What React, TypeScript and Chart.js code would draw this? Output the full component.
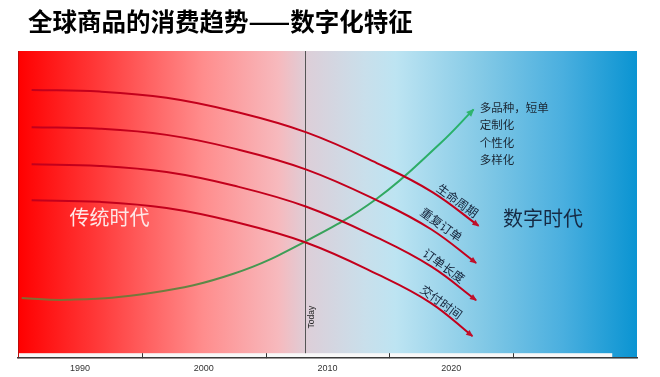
import React, { useEffect, useRef } from "react";
import { Chart, registerables } from "chart.js";

Chart.register(...registerables);

const TITLE = "全球商品的消费趋势——数字化特征";
const tickYears = [1990, 2000, 2010, 2020];
const tickMarkYears = [1995, 2005, 2015, 2025];
const todayYear = 2008.2;
const stripEndYear = 2033;

const seriesNames = ["生命周期", "重复订单", "订单长度", "交付时间"];

const years1 = [1986.1, 1991.6, 1997.0, 2002.4, 2008.3, 2014.2, 2018.5, 2022.2];
const lifeCycle = [87.3, 86.8, 84.8, 80.4, 73.5, 63.1, 54.0, 43.1];
const years2 = [1986.1, 1991.6, 1997.0, 2002.4, 2008.3, 2014.2, 2018.4, 2022.0];
const repeatOrder = [75.2, 74.7, 72.7, 68.3, 61.4, 51.0, 41.9, 31.0];
const years3 = [1986.1, 1991.6, 1997.0, 2002.4, 2008.3, 2014.2, 2018.4, 2022.0];
const orderLength = [63.1, 62.6, 60.6, 56.2, 49.3, 38.9, 29.8, 18.9];
const years4 = [1986.1, 1991.6, 1997.0, 2002.4, 2008.3, 2014.1, 2018.3, 2021.7];
const deliveryTime = [51.4, 50.9, 48.9, 44.5, 37.6, 27.2, 18.1, 7.2];

const greenYears = [1985.3, 1989.0, 1995.7, 2002.4, 2008.3, 2014.0, 2019.1, 2021.8];
const variety = [19.6, 19.0, 21.2, 27.5, 38.2, 52.0, 69.9, 81.0];

// label positions (data units) for annotations
const curveLabelYears = [2020.5, 2019.2, 2019.4, 2019.2];
const curveLabelValues = [51.3, 43.5, 30.1, 18.3];
const noteLines = ["多品种，短单", "定制化", "个性化", "多样化"];
const noteYear = 2022.3;
const noteValue = 81.7;

const CJK = '"Noto Sans CJK SC", "Noto Sans", sans-serif';

function toPoints(xs: number[], ys: number[]) {
  return xs.map((x, i) => ({ x, y: ys[i] }));
}

function drawArrow(ctx: CanvasRenderingContext2D, el: any, prev: any, color: string, len: number, half: number) {
  const useCp = el.cp1x !== undefined && Math.abs(el.cp1x - el.x) + Math.abs(el.cp1y - el.y) > 0.5;
  const fx = useCp ? el.cp1x : prev.x;
  const fy = useCp ? el.cp1y : prev.y;
  const a = Math.atan2(el.y - fy, el.x - fx);
  ctx.save();
  ctx.translate(el.x, el.y);
  ctx.rotate(a);
  ctx.fillStyle = color;
  ctx.beginPath();
  ctx.moveTo(1, 0);
  ctx.lineTo(-len, -half);
  ctx.lineTo(-len, half);
  ctx.closePath();
  ctx.fill();
  ctx.restore();
}

const decorPlugin = {
  id: "decor",
  beforeDraw(chart: any) {
    const { ctx, chartArea: a, scales } = chart;
    const x = scales.x;
    ctx.save();
    ctx.fillStyle = "#ffffff";
    ctx.fillRect(0, 0, chart.width, chart.height);
    const g = ctx.createLinearGradient(a.left, 0, a.right, 0);
    g.addColorStop(0, "#ff0000");
    g.addColorStop(0.13, "#ff3a3a");
    g.addColorStop(0.3, "#ff8d8d");
    g.addColorStop(0.42, "#f7b9bd");
    g.addColorStop(0.47, "#dccfd9");
    g.addColorStop(0.56, "#c9dfeb");
    g.addColorStop(0.61, "#bde4f2");
    g.addColorStop(0.75, "#83c9e6");
    g.addColorStop(0.88, "#4aafdf");
    g.addColorStop(1, "#0a94d2");
    ctx.fillStyle = g;
    ctx.fillRect(a.left, a.top, a.right - a.left, a.bottom - a.top);
    // left edge
    ctx.strokeStyle = "rgba(140,20,20,0.6)";
    ctx.lineWidth = 1;
    ctx.beginPath();
    ctx.moveTo(a.left + 0.5, a.top);
    ctx.lineTo(a.left + 0.5, a.bottom);
    ctx.stroke();
    // white strip at bottom
    const sx = x.getPixelForValue(stripEndYear);
    ctx.fillStyle = "#f8f8f8";
    ctx.fillRect(a.left + 1, a.bottom - 5, sx - a.left - 1, 5);
    ctx.strokeStyle = "#333";
    ctx.lineWidth = 1;
    tickMarkYears.forEach((yr) => {
      const px = Math.round(x.getPixelForValue(yr)) + 0.5;
      ctx.beginPath();
      ctx.moveTo(px, a.bottom - 5);
      ctx.lineTo(px, a.bottom);
      ctx.stroke();
    });
    // today line
    const tx = Math.round(x.getPixelForValue(todayYear)) + 0.5;
    ctx.strokeStyle = "#555";
    ctx.beginPath();
    ctx.moveTo(tx, a.top);
    ctx.lineTo(tx, a.bottom - 5);
    ctx.stroke();
    ctx.translate(tx + 6, a.bottom - 41);
    ctx.rotate(-Math.PI / 2);
    ctx.fillStyle = "#222";
    ctx.font = '8.5px "Liberation Sans", sans-serif';
    ctx.textAlign = "center";
    ctx.textBaseline = "middle";
    ctx.fillText("Today", 0, 0);
    ctx.restore();

    // title
    ctx.save();
    ctx.fillStyle = "#000";
    ctx.font = `bold 24.5px ${CJK}`;
    ctx.textBaseline = "middle";
    ctx.textAlign = "left";
    ctx.fillText(TITLE, 28, 22);
    ctx.restore();
  },
  afterDatasetsDraw(chart: any) {
    const { ctx, scales } = chart;
    const x = scales.x;
    const y = scales.y;
    chart.data.datasets.forEach((ds: any, i: number) => {
      const meta = chart.getDatasetMeta(i);
      const pts = meta.data;
      const last = pts[pts.length - 1];
      const prev = pts[pts.length - 2];
      if (i < 4) drawArrow(ctx, last, prev, "#c0102a", 6, 3);
      else drawArrow(ctx, last, prev, "#2fb46e", 7, 3.5);
    });
    ctx.save();
    // era labels
    ctx.font = `20px ${CJK}`;
    ctx.textAlign = "center";
    ctx.textBaseline = "middle";
    ctx.fillStyle = "#fde6e6";
    ctx.fillText("传统时代", x.getPixelForValue(1992.4), y.getPixelForValue(45.8));
    ctx.fillStyle = "#162a44";
    ctx.fillText("数字时代", x.getPixelForValue(2027.4), y.getPixelForValue(45.4));
    // curve labels
    ctx.font = `12px ${CJK}`;
    ctx.fillStyle = "#14233a";
    seriesNames.forEach((name, i) => {
      ctx.save();
      ctx.translate(x.getPixelForValue(curveLabelYears[i]), y.getPixelForValue(curveLabelValues[i]));
      ctx.rotate((36 * Math.PI) / 180);
      ctx.fillText(name, 0, 0);
      ctx.restore();
    });
    // notes
    ctx.font = `11.5px ${CJK}`;
    ctx.textAlign = "left";
    ctx.fillStyle = "#1a2633";
    const nx = x.getPixelForValue(noteYear);
    const ny = y.getPixelForValue(noteValue);
    noteLines.forEach((t, i) => ctx.fillText(t, nx, ny + i * 17.5));
    ctx.restore();
  },
};

export default function App() {
  const ref = useRef<HTMLCanvasElement | null>(null);
  useEffect(() => {
    if (!ref.current) return;
    const red = "#c3001c";
    const redSeries = [
      toPoints(years1, lifeCycle),
      toPoints(years2, repeatOrder),
      toPoints(years3, orderLength),
      toPoints(years4, deliveryTime),
    ];
    const chart = new Chart(ref.current, {
      type: "line",
      data: {
        datasets: [
          ...redSeries.map((d, i) => ({
            label: seriesNames[i],
            data: d,
            borderColor: red,
            borderWidth: 2,
            pointRadius: 0,
            tension: 0.4,
            fill: false,
          })),
          {
            label: "多样化",
            data: toPoints(greenYears, variety),
            borderColor: (c: any) => {
              const area = c.chart.chartArea;
              if (!area) return "#3a9a50";
              const g = c.chart.ctx.createLinearGradient(area.left, 0, c.chart.scales.x.getPixelForValue(2022), 0);
              g.addColorStop(0, "#866830");
              g.addColorStop(0.3, "#737a3c");
              g.addColorStop(0.55, "#3f9c55");
              g.addColorStop(1, "#26b46e");
              return g;
            },
            borderWidth: 2,
            pointRadius: 0,
            tension: 0.4,
            fill: false,
          },
        ],
      },
      options: {
        animation: false,
        responsive: false,
        events: [],
        layout: { padding: { left: 18, right: 23, top: 51, bottom: -2 } },
        plugins: { legend: { display: false }, tooltip: { enabled: false }, title: { display: false } },
        scales: {
          x: {
            type: "linear",
            min: 1985,
            max: 2035,
            afterBuildTicks: (scale: any) => {
              scale.ticks = tickYears.map((v) => ({ value: v }));
            },
            grid: { display: false, drawTicks: false },
            border: { display: true, color: "#3a3a3a", width: 1.5 },
            ticks: {
              autoSkip: false,
              maxRotation: 0,
              padding: 5,
              color: "#333",
              font: { size: 9, family: '"Liberation Sans", sans-serif' },
              callback: (v: any) => String(v),
            },
          },
          y: { display: false, min: 0, max: 100 },
        },
      },
      plugins: [decorPlugin],
    });
    return () => chart.destroy();
  }, []);
  return (
    <div style={{ position: "fixed", left: 0, top: 0, width: 660, height: 377, background: "#fff" }}>
      <canvas ref={ref} width={660} height={377} style={{ display: "block", width: 660, height: 377 }} />
    </div>
  );
}
